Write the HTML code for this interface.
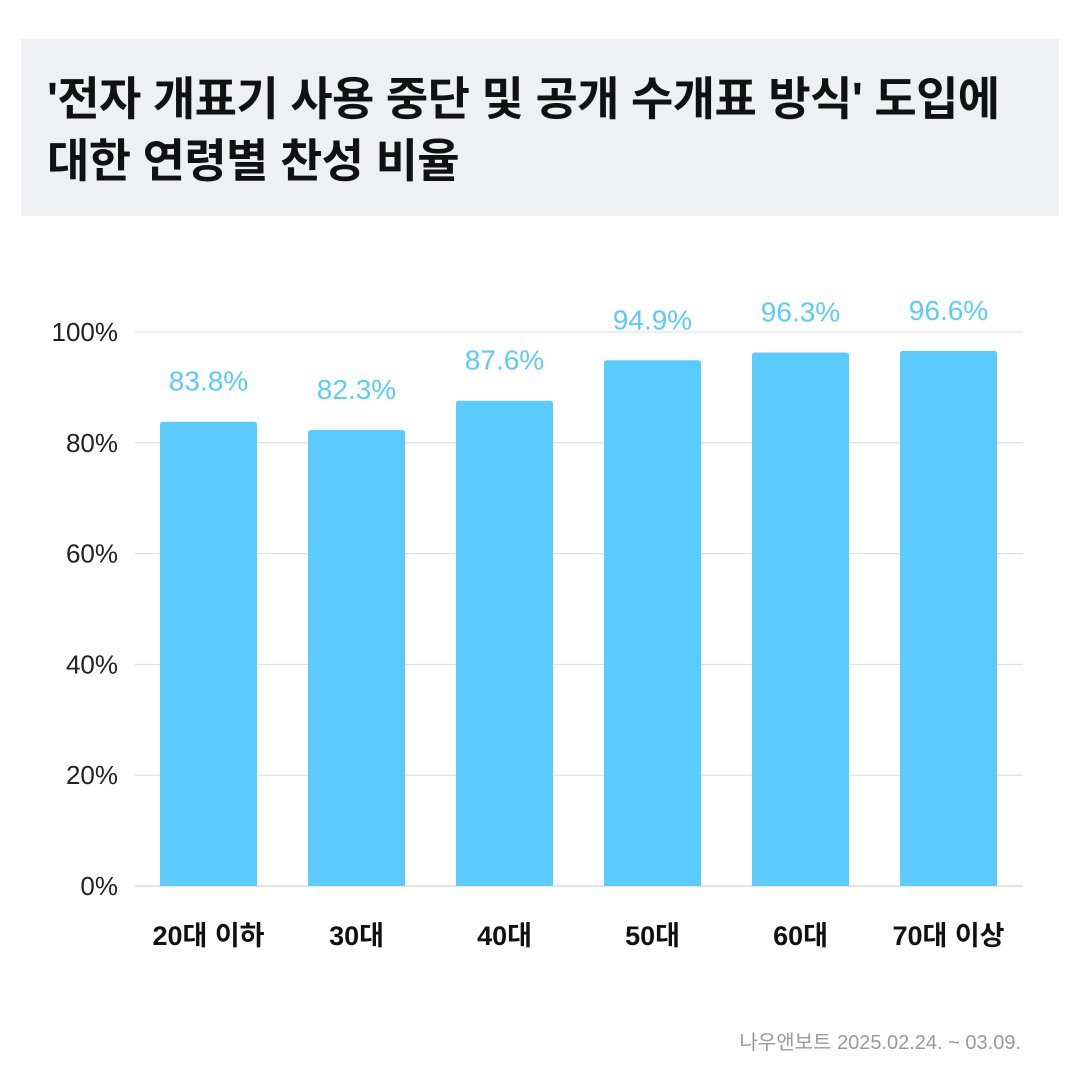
<!DOCTYPE html>
<html><head><meta charset="utf-8">
<style>
html,body{margin:0;padding:0;background:#fff;width:1080px;height:1080px;overflow:hidden;font-family:"Liberation Sans","Noto Sans CJK KR",sans-serif;}
.title-box{position:absolute;left:21px;top:39px;width:1038px;height:177px;background:#eff0f4;}
.title{position:absolute;left:47px;top:68px;font-size:46px;font-weight:bold;line-height:62px;color:#111;letter-spacing:-0.6px;white-space:nowrap;font-family:"Liberation Sans","Noto Sans CJK KR",sans-serif;}
svg{position:absolute;left:0;top:0;}
.footer{position:absolute;right:59px;top:1026px;font-size:20px;color:#9a9a9a;}
</style></head><body>
<div class="title-box"></div>
<div class="title">'전자 개표기 사용 중단 및 공개 수개표 방식' 도입에<br>대한 연령별 찬성 비율</div>
<svg id="chart" width="1080" height="1080"></svg>
<div class="footer">나우앤보트 2025.02.24. ~ 03.09.</div>
<script>
const categories=["20대 이하","30대","40대","50대","60대","70대 이상"];
const values=[83.8,82.3,87.6,94.9,96.3,96.6];
const valueLabels=["83.8%","82.3%","87.6%","94.9%","96.3%","96.6%"];
const ticks=[0,20,40,60,80,100];
const tickLabels=["0%","20%","40%","60%","80%","100%"];
const NS="http://www.w3.org/2000/svg";
const svg=document.getElementById('chart');
const y0=886,y100=332,xL=135,xR=1023,x0=160,step=148,bw=97;
const y=v=>y0-(v/100)*(y0-y100);
const x=i=>x0+i*step;
function mk(t,a){const e=document.createElementNS(NS,t);for(const k in a)e.setAttribute(k,a[k]);svg.appendChild(e);return e;}
ticks.forEach((t,i)=>{
 const l=mk('line',{x1:xL,x2:xR,y1:y(t),y2:y(t),stroke:t===0?'#c8c8c8':'#dcdcdc','stroke-width':1});
 
 
 const tx=mk('text',{x:118,y:y(t)+9,'text-anchor':'end','font-size':26,fill:'#222'});
 tx.textContent=tickLabels[i];
 
 
});
values.forEach((v,i)=>{
 const p=mk('path',{d:`M${x(i)},${y0} V${y(v)+3} Q${x(i)},${y(v)} ${x(i)+3},${y(v)} H${x(i)+bw-3} Q${x(i)+bw},${y(v)} ${x(i)+bw},${y(v)+3} V${y0} Z`,fill:'#5bcbfd'});
 
 
 const vl=mk('text',{x:x(i)+bw/2,y:y(v)-31,'text-anchor':'middle','font-size':28,fill:'#5bcbfd'});
 vl.textContent=valueLabels[i];
 
 
 const cl=mk('text',{x:x(i)+bw/2,y:945,'text-anchor':'middle','font-size':27,'font-weight':'bold',fill:'#111'});
 cl.textContent=categories[i];
 
 
});
</script>
</body></html>
